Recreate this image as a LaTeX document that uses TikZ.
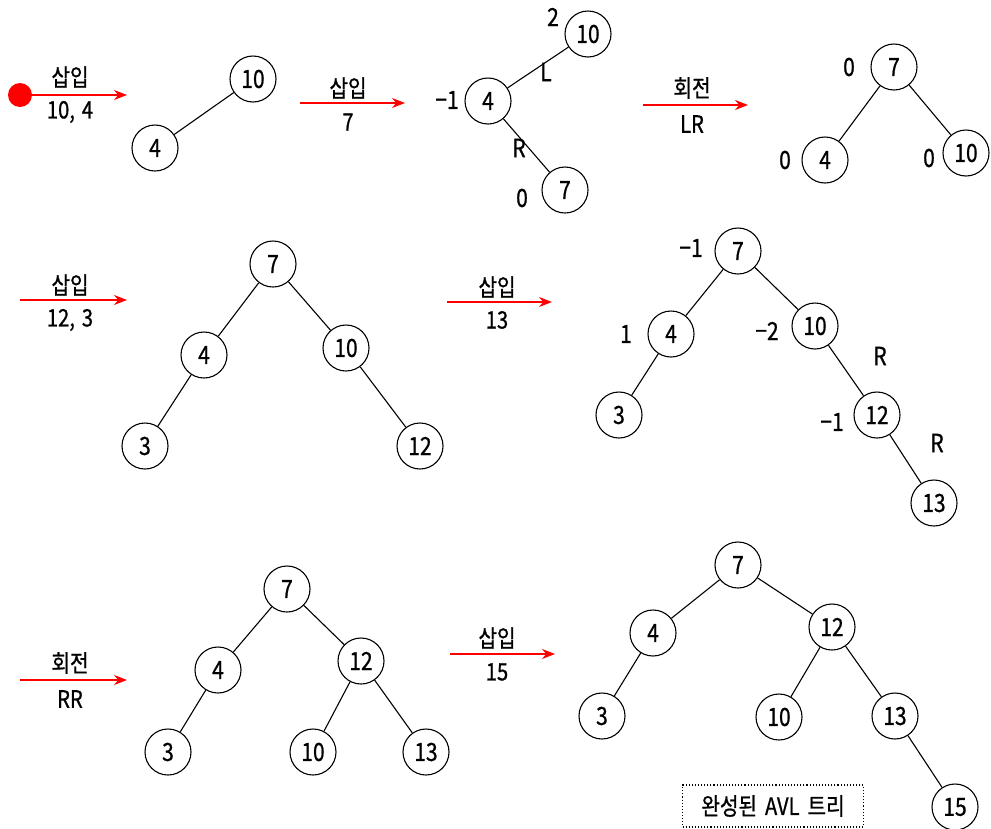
\documentclass[tikz,border=0pt]{standalone}
\usepackage{fontspec}
\setmainfont{Noto Sans CJK KR}[FakeStretch=0.84, FakeBold=0.8]
\usepackage{tikz}
\usetikzlibrary{arrows.meta}

\begin{document}
\begin{tikzpicture}[x=1pt, y=-1pt, >=Stealth,
  key/.style={circle, draw, line width=1.1pt, minimum size=46pt, inner sep=0pt, font=\fontsize{25}{27}\selectfont},
  bal/.style={font=\fontsize{25}{27}\selectfont, inner sep=0pt},
  op/.style={font=\fontsize{24}{26}\selectfont, inner sep=0pt},
  ins/.style={red, line width=1.1pt, -{Stealth[length=13pt, width=10pt]}},
  edge/.style={line width=1.1pt}]
\useasboundingbox (0,0) rectangle (991,828);

% row 1: insert 10, 4
\node[circle, fill=red, minimum size=24pt, inner sep=0pt] (start) at (20,95) {};
\coordinate (a1) at (127,95);
\draw[ins] (start) -- (a1);
\node[op] (o1a) at (70,77) {삽입}; \node[op] (o1b) at (70,112) {10,\hspace{7pt}4};
\node[key] (p1n10) at (253,79) {10};
\node[key] (p1n4) at (155,148) {4};
\draw[edge] (p1n4)--(p1n10);

% insert 7
\coordinate (a2s) at (300,103); \coordinate (a2e) at (405,103);
\draw[ins] (a2s) -- (a2e);
\node[op] (o2a) at (348,88) {삽입}; \node[op] (o2b) at (348,122) {7};
\node[key] (p2n10) at (588,34) {10};
\node[key] (p2n4) at (488,101) {4};
\node[key] (p2n7) at (565,190) {7};
\draw[edge] (p2n4)--(p2n10); \draw[edge] (p2n4)--(p2n7);
\node[bal] (b2a) at (553,17) {2}; \node[bal] (b2b) at (546,72) {L};
\node[bal] (b2c) at (447,100) {−1}; \node[bal] (b2d) at (519,148) {R};
\node[bal] (b2e) at (522,198) {0};

% rotate LR
\coordinate (a3s) at (643,105); \coordinate (a3e) at (748,105);
\draw[ins] (a3s) -- (a3e);
\node[op] (o3a) at (692,88) {회전}; \node[op] (o3b) at (692,124) {LR};
\node[key] (p3n7) at (894,67) {7};
\node[key] (p3n4) at (825,160) {4};
\node[key] (p3n10) at (966,153) {10};
\draw[edge] (p3n7)--(p3n4); \draw[edge] (p3n7)--(p3n10);
\node[bal] (b3a) at (849,67) {0}; \node[bal] (b3b) at (785,160) {0};
\node[bal] (b3c) at (929,158) {0};

% row 2: insert 12, 3
\coordinate (a4s) at (20,300); \coordinate (a4e) at (127,300);
\draw[ins] (a4s) -- (a4e);
\node[op] (o4a) at (70,285) {삽입}; \node[op] (o4b) at (70,320) {12,\hspace{7pt}3};
\node[key] (p4n7) at (273,264) {7};
\node[key] (p4n4) at (204,355) {4};
\node[key] (p4n10) at (346,348) {10};
\node[key] (p4n3) at (145,446) {3};
\node[key] (p4n12) at (420,446) {12};
\draw[edge] (p4n7)--(p4n4); \draw[edge] (p4n7)--(p4n10);
\draw[edge] (p4n4)--(p4n3); \draw[edge] (p4n10)--(p4n12);

% insert 13
\coordinate (a5s) at (447,302); \coordinate (a5e) at (552,302);
\draw[ins] (a5s) -- (a5e);
\node[op] (o5a) at (497,287) {삽입}; \node[op] (o5b) at (497,320) {13};
\node[key] (p5n7) at (738,251) {7};
\node[key] (p5n4) at (671,334) {4};
\node[key] (p5n10) at (815,326) {10};
\node[key] (p5n3) at (619,415) {3};
\node[key] (p5n12) at (877,415) {12};
\node[key] (p5n13) at (934,503) {13};
\draw[edge] (p5n7)--(p5n4); \draw[edge] (p5n7)--(p5n10);
\draw[edge] (p5n4)--(p5n3); \draw[edge] (p5n10)--(p5n12);
\draw[edge] (p5n12)--(p5n13);
\node[bal] (b5a) at (691,248) {−1}; \node[bal] (b5b) at (626,334) {1};
\node[bal] (b5c) at (767,331) {−2}; \node[bal] (b5d) at (880,356) {R};
\node[bal] (b5e) at (832,422) {−1}; \node[bal] (b5f) at (937,443) {R};

% row 3: rotate RR
\coordinate (a6s) at (20,680); \coordinate (a6e) at (127,680);
\draw[ins] (a6s) -- (a6e);
\node[op] (o6a) at (70,663) {회전}; \node[op] (o6b) at (70,699) {RR};
\node[key] (p6n7) at (287,589) {7};
\node[key] (p6n4) at (218,670) {4};
\node[key] (p6n12) at (361,661) {12};
\node[key] (p6n3) at (168,752) {3};
\node[key] (p6n10) at (313,752) {10};
\node[key] (p6n13) at (426,752) {13};
\draw[edge] (p6n7)--(p6n4); \draw[edge] (p6n7)--(p6n12);
\draw[edge] (p6n4)--(p6n3); \draw[edge] (p6n12)--(p6n10);
\draw[edge] (p6n12)--(p6n13);

% insert 15
\coordinate (a7s) at (450,654); \coordinate (a7e) at (555,654);
\draw[ins] (a7s) -- (a7e);
\node[op] (o7a) at (497,638) {삽입}; \node[op] (o7b) at (497,672) {15};
\node[key] (p7n7) at (738,565) {7};
\node[key] (p7n4) at (653,633) {4};
\node[key] (p7n12) at (832,627) {12};
\node[key] (p7n3) at (602,716) {3};
\node[key] (p7n10) at (779,717) {10};
\node[key] (p7n13) at (895,716) {13};
\node[key] (p7n15) at (955,807) {15};
\draw[edge] (p7n7)--(p7n4); \draw[edge] (p7n7)--(p7n12);
\draw[edge] (p7n4)--(p7n3); \draw[edge] (p7n12)--(p7n10);
\draw[edge] (p7n12)--(p7n13); \draw[edge] (p7n13)--(p7n15);
\node[draw, dotted, line width=1.1pt, minimum width=181pt, minimum height=42pt, font=\fontsize{24}{26}\selectfont] (done) at (773,806) {완성된\hspace{8pt}AVL\hspace{8pt}트리};

\end{tikzpicture}
\end{document}
